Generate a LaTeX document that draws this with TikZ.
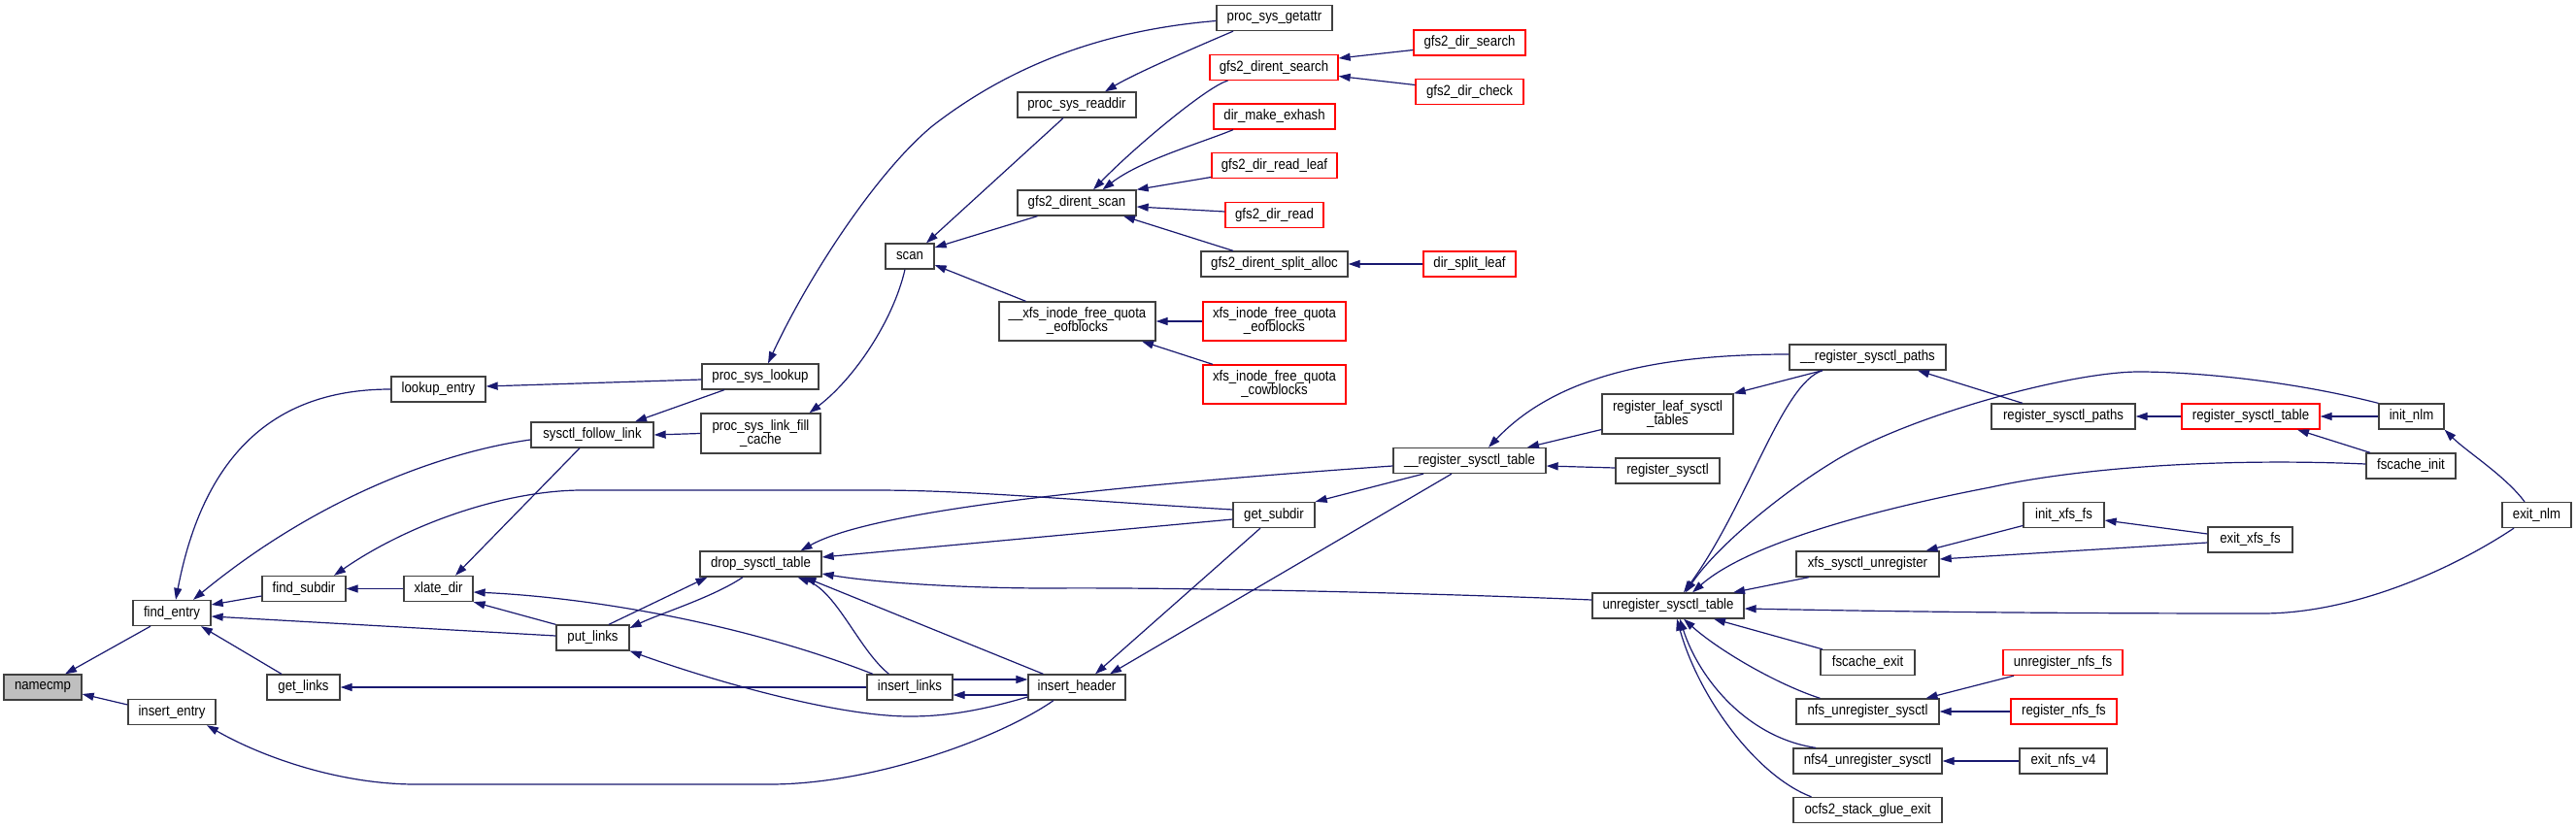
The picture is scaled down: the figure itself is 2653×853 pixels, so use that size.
\documentclass[tikz,border=0pt]{standalone}
\usepackage{fontspec}
\setmainfont{Liberation Sans}[FakeStretch=0.88]
\usetikzlibrary{arrows.meta}
\definecolor{edgeblue}{HTML}{191970}
\definecolor{boxgray}{HTML}{404040}
\definecolor{boxred}{HTML}{FF0000}
\definecolor{rootfill}{HTML}{BFBFBF}
\begin{document}
\begin{tikzpicture}[x=1pt,y=-1pt,
  fn/.style={draw=boxgray, line width=1.3pt, fill=white, rectangle, inner sep=0pt,
    align=center, minimum height=26, font=\fontsize{15}{14}\selectfont},
  rfn/.style={fn, draw=boxred},
  two/.style={minimum height=41},
  ce/.style={draw=edgeblue, line width=1.2pt, -{Triangle[length=12pt,width=8pt]}}]
\useasboundingbox[fill=white] (0,0) rectangle (2653,853);
% nodes
\node[fn, fill=rootfill, minimum width=80] (nc) at (44,708) {namecmp};
\node[fn, minimum width=80] (fe) at (177,631.5) {find\_entry};
\node[fn, minimum width=90] (ie) at (177,733.5) {insert\_entry};
\node[fn, minimum width=97] (le) at (451.5,401) {lookup\_entry};
\node[fn, minimum width=86] (fs) at (313,606.5) {find\_subdir};
\node[fn, minimum width=75] (gl) at (312.5,708) {get\_links};
\node[fn, minimum width=71] (xd) at (451.5,606.5) {xlate\_dir};
\node[fn, minimum width=126] (sfl) at (610,448) {sysctl\_follow\_link};
\node[fn, minimum width=75] (pl) at (610.5,657) {put\_links};
\node[fn, minimum width=120] (psl) at (783,388) {proc\_sys\_lookup};
\node[fn, two, minimum width=123] (pslf) at (783.5,446.5) {proc\_sys\_link\_fill\\\_cache};
\node[fn, minimum width=125] (dst) at (783.5,581) {drop\_sysctl\_table};
\node[fn, minimum width=50] (sc) at (937,264) {scan};
\node[fn, minimum width=122] (psr) at (1109,108) {proc\_sys\_readdir};
\node[fn, minimum width=122] (gds) at (1109,209) {gfs2\_dirent\_scan};
\node[fn, two, minimum width=161, minimum height=40] (xfq) at (1109.5,331) {\_\_xfs\_inode\_free\_quota\\\_eofblocks};
\node[fn, minimum width=88] (il) at (937,708) {insert\_links};
\node[fn, minimum width=100] (ih) at (1109,708) {insert\_header};
\node[fn, minimum width=84] (gs) at (1312,530.5) {get\_subdir};
\node[fn, minimum width=119] (psg) at (1312.5,18.5) {proc\_sys\_getattr};
\node[rfn, minimum width=132] (gdse) at (1312,69.5) {gfs2\_dirent\_search};
\node[rfn, minimum width=125] (dme) at (1312.5,120) {dir\_make\_exhash};
\node[rfn, minimum width=129] (gdrl) at (1312.5,170.5) {gfs2\_dir\_read\_leaf};
\node[rfn, minimum width=101] (gdr) at (1312.5,221.5) {gfs2\_dir\_read};
\node[fn, minimum width=151] (gdsa) at (1312.5,272) {gfs2\_dirent\_split\_alloc};
\node[rfn, minimum width=147, minimum height=40] (xe) at (1312.5,331) {xfs\_inode\_free\_quota\\\_eofblocks};
\node[rfn, minimum width=147, minimum height=40] (xc) at (1312.5,396) {xfs\_inode\_free\_quota\\\_cowblocks};
\node[rfn, minimum width=115] (gdsr) at (1513.5,44) {gfs2\_dir\_search};
\node[rfn, minimum width=111] (gdc) at (1513.5,94.5) {gfs2\_dir\_check};
\node[rfn, minimum width=95] (dsl) at (1513.5,272) {dir\_split\_leaf};
\node[fn, minimum width=157] (rst) at (1513.5,474.5) {\_\_register\_sysctl\_table};
\node[fn, two, minimum width=135] (rlst) at (1717.5,426.5) {register\_leaf\_sysctl\\\_tables};
\node[fn, minimum width=107] (rs) at (1717.5,485) {register\_sysctl};
\node[fn, minimum width=156] (ust) at (1718,624) {unregister\_sysctl\_table};
\node[fn, minimum width=161] (rsp) at (1923.5,368) {\_\_register\_sysctl\_paths};
\node[fn, minimum width=147] (xsu) at (1923.5,581) {xfs\_sysctl\_unregister};
\node[fn, minimum width=97] (fx) at (1923.5,682.5) {fscache\_exit};
\node[fn, minimum width=147] (nus) at (1923.5,733) {nfs\_unregister\_sysctl};
\node[fn, minimum width=153] (n4us) at (1923.5,784) {nfs4\_unregister\_sysctl};
\node[fn, minimum width=153] (osge) at (1923.5,834.5) {ocfs2\_stack\_glue\_exit};
\node[fn, minimum width=148] (rsp2) at (2125,429) {register\_sysctl\_paths};
\node[fn, minimum width=83] (ixf) at (2125.5,530.5) {init\_xfs\_fs};
\node[rfn, minimum width=123] (unf) at (2124.5,682.5) {unregister\_nfs\_fs};
\node[rfn, minimum width=109] (rnf) at (2125.5,733) {register\_nfs\_fs};
\node[fn, minimum width=90] (env4) at (2125,784) {exit\_nfs\_v4};
\node[rfn, minimum width=142] (rstb) at (2318,429) {register\_sysctl\_table};
\node[fn, minimum width=87] (exf) at (2317.5,556) {exit\_xfs\_fs};
\node[fn, minimum width=67] (inlm) at (2483.5,429) {init\_nlm};
\node[fn, minimum width=92] (fi) at (2483,480) {fscache\_init};
\node[fn, minimum width=71] (en) at (2612.5,530.5) {exit\_nlm};
% edges
\draw[ce] ([xshift=-22]fe.south) -- ([xshift=23]nc.north);
\draw[ce] ([yshift=7.5]ie.west) -- ([yshift=-7]nc.east);
\draw[ce] (le.west) .. controls (310,401) and (215,440) .. ([xshift=4]fe.north);
\draw[ce] ([yshift=-5]sfl.west) .. controls (460,465) and (330,510) .. ([xshift=22]fe.north);
\draw[ce] ([yshift=-7.5]fs.west) -- ([yshift=8.5]fe.east);
\draw[ce] ([yshift=2]pl.west) -- ([yshift=-3.5]fe.east);
\draw[ce] ([xshift=-22.5]gl.north) -- ([xshift=30]fe.south);
\draw[ce] ([xshift=-24]ih.south) .. controls (1030,760) and (900,808) .. (793,808) -- (428,808) .. controls (350,808) and (270,780) .. ([xshift=36]ie.south);
\draw[ce] (xd.west) -- (fs.east);
\draw[ce] ([yshift=5.5]gs.west) .. controls (1100,515) and (1000,505) .. (900,505) -- (600,505) .. controls (520,505) and (420,540) .. ([xshift=31]fs.north);
\draw[ce] ([xshift=-13]sfl.south) -- ([xshift=17.5]xd.north);
\draw[ce] (pl.north west) -- (xd.south east);
\draw[ce] ([xshift=-38]il.north) .. controls (760,640) and (600,615) .. ([yshift=-3.5]xd.east);
\draw[ce] ([xshift=16.5]pl.north) -- ([xshift=-55]dst.south);
\draw[ce] ([xshift=-18.5]dst.south) .. controls (735,615) and (680,632) .. ([yshift=10]pl.east);
\draw[ce] ([yshift=-10]ih.west) .. controls (1010,732) and (975,738) .. (937,738) .. controls (860,738) and (730,700) .. (pl.south east);
\draw[ce] (il.west) -- (gl.east);
\draw[ce] ([yshift=-3]psl.west) -- ([yshift=3]le.east);
\draw[ce] ([xshift=-37]psl.south) -- ([xshift=44]sfl.north);
\draw[ce] (pslf.west) -- (sfl.east);
\draw[ce] ([yshift=-3]psg.west) .. controls (1150,30) and (1050,60) .. (960,130) .. controls (900,180) and (830,290) .. ([xshift=8]psl.north);
\draw[ce] ([xshift=-42.5]psg.south) .. controls (1240,45) and (1170,75) .. ([xshift=29]psr.north);
\draw[ce] ([xshift=-14]psr.south) -- ([xshift=17]sc.north);
\draw[ce] ([xshift=-40.5]gds.south) -- ([yshift=9]sc.east);
\draw[ce] ([xshift=-53]xfq.north) -- ([yshift=-9]sc.east);
\draw[ce] ([xshift=-5]sc.south) .. controls (920,330) and (880,390) .. ([xshift=50]pslf.north);
\draw[ce] ([xshift=-47.5]gdse.south) .. controls (1245,88) and (1170,150) .. ([xshift=17]gds.north);
\draw[ce] ([xshift=-42.5]dme.south) .. controls (1235,148) and (1175,165) .. ([xshift=26.5]gds.north);
\draw[ce] ([yshift=-12]gdrl.west) -- (gds.north east);
\draw[ce] ([yshift=3.5]gdr.west) -- ([yshift=-4]gds.east);
\draw[ce] ([xshift=-42.5]gdsa.north) -- ([xshift=48]gds.south);
\draw[ce] (xe.west) -- (xfq.east);
\draw[ce] ([xshift=-63.5]xc.north) -- ([xshift=66.5]xfq.south);
\draw[ce] ([yshift=-7.5]gdsr.west) -- ([yshift=9.5]gdse.east);
\draw[ce] ([yshift=7]gdc.west) -- ([yshift=-9]gdse.east);
\draw[ce] (dsl.west) -- (gdsa.east);
\draw[ce] ([yshift=-4.5]gs.west) -- ([yshift=7]dst.east);
\draw[ce] ([yshift=-5.5]rst.west) .. controls (1150,500) and (900,525) .. ([xshift=41]dst.north);
\draw[ce] ([yshift=6]ust.west) .. controls (1450,610) and (1200,605) .. (1080,606) .. controls (990,606) and (900,600) .. ([yshift=-10]dst.east);
\draw[ce] ([xshift=-21.5]il.north) .. controls (885,670) and (862,610) .. ([xshift=38]dst.south);
\draw[ce] ([xshift=-34.5]ih.north) -- ([xshift=45]dst.south);
\draw[ce] ([yshift=8]il.east) -- ([yshift=8]ih.west);
\draw[ce] ([yshift=-8]ih.west) -- ([yshift=-8]il.east);
\draw[ce] ([xshift=-14]gs.south) -- ([xshift=19]ih.north);
\draw[ce] ([xshift=-18.5]rst.south) -- ([xshift=34]ih.north);
\draw[ce] ([xshift=-47.5]rst.south) -- (gs.north east);
\draw[ce] ([yshift=3]rsp.west) .. controls (1700,365) and (1600,390) .. ([xshift=19.5]rst.north);
\draw[ce] ([yshift=-16]rlst.west) -- ([xshift=59.5]rst.north);
\draw[ce] ([yshift=3]rs.west) -- ([yshift=-5.5]rst.east);
\draw[ce] ([xshift=-46.5]rsp.south) -- (rlst.north east);
\draw[ce] ([xshift=-46.5]rsp.south) .. controls (1835,395) and (1800,520) .. ([xshift=16]ust.north);
\draw[ce] ([xshift=-42]rsp2.north) -- ([xshift=51.5]rsp.south);
\draw[ce] (rstb.west) -- (rsp2.east);
\draw[ce] (inlm.west) -- (rstb.east);
\draw[ce] ([xshift=-42]fi.north) -- ([xshift=48]rstb.south);
\draw[ce] (inlm.north west) .. controls (2350,390) and (2250,383) .. (2203,383) .. controls (2130,383) and (1960,430) .. (1886,477) .. controls (1840,505) and (1770,560) .. ([xshift=18]ust.north);
\draw[ce] ([yshift=2]fi.west) .. controls (2300,472) and (2150,480) .. (2050,502) .. controls (1930,525) and (1800,560) .. ([xshift=25]ust.north);
\draw[ce] ([xshift=-60.5]xsu.south) -- ([xshift=67]ust.north);
\draw[ce] ([xshift=-23.5]en.south) .. controls (2520,590) and (2420,632) .. (2330,632) .. controls (2100,632) and (1950,630) .. ([yshift=-3]ust.east);
\draw[ce] ([xshift=-46.5]fx.north) -- ([xshift=47]ust.south);
\draw[ce] ([xshift=-49]nus.north) .. controls (1830,705) and (1770,670) .. ([xshift=16]ust.south);
\draw[ce] ([xshift=-53.5]n4us.north) .. controls (1800,760) and (1750,700) .. ([xshift=12]ust.south);
\draw[ce] ([xshift=-58]osge.north) .. controls (1810,800) and (1750,720) .. ([xshift=9]ust.south);
\draw[ce] ([yshift=-11]ixf.west) -- ([xshift=60]xsu.north);
\draw[ce] ([yshift=-3]exf.west) -- ([yshift=5]xsu.east);
\draw[ce] ([yshift=6]exf.west) -- ([yshift=-5.5]ixf.east);
\draw[ce] ([xshift=-12.5]en.north) .. controls (2580,490) and (2540,465) .. (inlm.south east);
\draw[ce] ([xshift=-50.5]unf.south) -- ([xshift=60]nus.north);
\draw[ce] (rnf.west) -- (nus.east);
\draw[ce] (env4.west) -- (n4us.east);
\end{tikzpicture}
\end{document}
